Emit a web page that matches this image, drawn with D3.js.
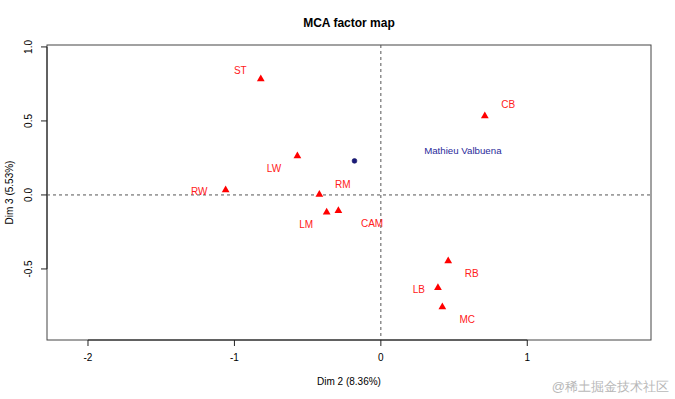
<!DOCTYPE html>
<meta charset="utf-8">
<style>
body { margin: 0; background: white; }
.canvas text { font-family: "Liberation Sans", Arial, sans-serif; }
.title { font-size: 12px; font-weight: bold; fill: black; text-anchor: middle; }
.tick-lab { font-size: 10px; fill: black; text-anchor: middle; }
.axis-title { font-size: 10px; fill: black; text-anchor: middle; }
.lab { font-size: 10px; fill: #ff2020; text-anchor: middle; }
.sup { font-size: 9.7px; fill: #2a2a9a; text-anchor: middle; }
.mark { font-size: 13px; fill: #b8b8b8; text-anchor: end; }
</style>
<svg class="canvas"></svg>
<script src="https://cdn.jsdelivr.net/npm/d3@7"></script>
<script>

// active categories (Dim 2, Dim 3)
var cats = ["ST", "CB", "LW", "RW", "RM", "LM", "CAM", "RB", "LB", "MC"];
var dim2 = [-0.82, 0.71, -0.57, -1.06, -0.42, -0.37, -0.29, 0.46, 0.39, 0.42];
var dim3 = [0.78, 0.53, 0.26, 0.03, 0.00, -0.12, -0.11, -0.45, -0.63, -0.76];
// label anchor points chosen by autoLab (data units)
var labX = [-0.96, 0.87, -0.73, -1.24, -0.26, -0.51, -0.06, 0.62, 0.26, 0.59];
var labY = [0.84, 0.61, 0.18, 0.02, 0.07, -0.20, -0.19, -0.53, -0.64, -0.84];

// supplementary individual
var supName = ["Mathieu Valbuena"];
var supX = [-0.18];
var supY = [0.23];
var supLabX = [0.56];
var supLabY = [0.30];

var xTicks = [-2, -1, 0, 1];
var yTicks = [1.0, 0.5, 0.0, -0.5];

var width = 675, height = 399;
var L = 47, R = 651, T = 45, B = 340;

var svg = d3.select(".canvas")
	.attr("width", width)
	.attr("height", height);

var x = d3.scaleLinear().domain([-2.28, 1.845]).range([L, R]);
var y = d3.scaleLinear().domain([-0.98, 1.013]).range([B, T]);

svg.append("rect")
	.attr("x", L).attr("y", T)
	.attr("width", R - L).attr("height", B - T)
	.attr("fill", "none").attr("stroke", "#444").attr("stroke-width", 1);

// x axis (R style: line over tick range, ticks outward)
var xa = svg.append("g").attr("transform", "translate(0," + B + ")");
xa.append("line")
	.attr("x1", x(xTicks[0])).attr("x2", x(xTicks[xTicks.length - 1]))
	.attr("stroke", "#222");
xa.selectAll("line.t").data(xTicks).enter().append("line")
	.attr("class", "t")
	.attr("x1", function(d) { return x(d); }).attr("x2", function(d) { return x(d); })
	.attr("y1", 0).attr("y2", 6).attr("stroke", "#222");
xa.selectAll("text").data(xTicks).enter().append("text")
	.attr("class", "tick-lab")
	.attr("x", function(d) { return x(d); })
	.attr("y", 21)
	.text(function(d) { return d; });

// y axis
var ya = svg.append("g").attr("transform", "translate(" + L + ",0)");
ya.append("line")
	.attr("y1", y(yTicks[0])).attr("y2", y(yTicks[yTicks.length - 1]))
	.attr("stroke", "#222");
ya.selectAll("line.t").data(yTicks).enter().append("line")
	.attr("class", "t")
	.attr("y1", function(d) { return y(d); }).attr("y2", function(d) { return y(d); })
	.attr("x1", 0).attr("x2", -6).attr("stroke", "#222");
ya.selectAll("text").data(yTicks).enter().append("text")
	.attr("class", "tick-lab")
	.attr("transform", function(d) { return "translate(-15," + y(d) + ") rotate(-90)"; })
	.text(function(d) { return d.toFixed(1); });

// dashed origin lines
svg.append("line")
	.attr("x1", x(0)).attr("x2", x(0)).attr("y1", T).attr("y2", B)
	.attr("stroke", "#555").attr("stroke-dasharray", "3,3");
svg.append("line")
	.attr("x1", L).attr("x2", R).attr("y1", y(0)).attr("y2", y(0))
	.attr("stroke", "#555").attr("stroke-dasharray", "3,3");

// titles
svg.append("text").attr("class", "title").attr("x", 349).attr("y", 27).text("MCA factor map");
svg.append("text").attr("class", "axis-title").attr("x", 349).attr("y", 385).text("Dim 2 (8.36%)");
svg.append("text").attr("class", "axis-title")
	.attr("transform", "translate(13," + ((T + B) / 2) + ") rotate(-90)")
	.text("Dim 3 (5.53%)");

// category triangles
var tri = d3.symbol().type(d3.symbolTriangle).size(26);
svg.selectAll("path.cat").data(cats).enter().append("path")
	.attr("class", "cat")
	.attr("d", tri)
	.attr("fill", "red")
	.attr("transform", function(d, i) { return "translate(" + x(dim2[i]) + "," + (y(dim3[i]) - 0.5) + ")"; });

svg.selectAll("text.lab").data(cats).enter().append("text")
	.attr("class", "lab")
	.attr("x", function(d, i) { return x(labX[i]); })
	.attr("y", function(d, i) { return y(labY[i]); })
	.attr("dy", "0.35em")
	.text(function(d) { return d; });

// supplementary point
svg.selectAll("circle.sup").data(supName).enter().append("circle")
	.attr("cx", function(d, i) { return x(supX[i]); })
	.attr("cy", function(d, i) { return y(supY[i]); })
	.attr("r", 2.4)
	.attr("fill", "#1a1a7a")
	.attr("stroke", "#101060").attr("stroke-width", 0.6);

svg.selectAll("text.sup").data(supName).enter().append("text")
	.attr("class", "sup")
	.attr("x", function(d, i) { return x(supLabX[i]); })
	.attr("y", function(d, i) { return y(supLabY[i]); })
	.attr("dy", "0.35em")
	.text(function(d) { return d; });

// watermark
svg.append("text").attr("class", "mark").attr("x", 669).attr("y", 391).text("@稀土掘金技术社区");

</script>
